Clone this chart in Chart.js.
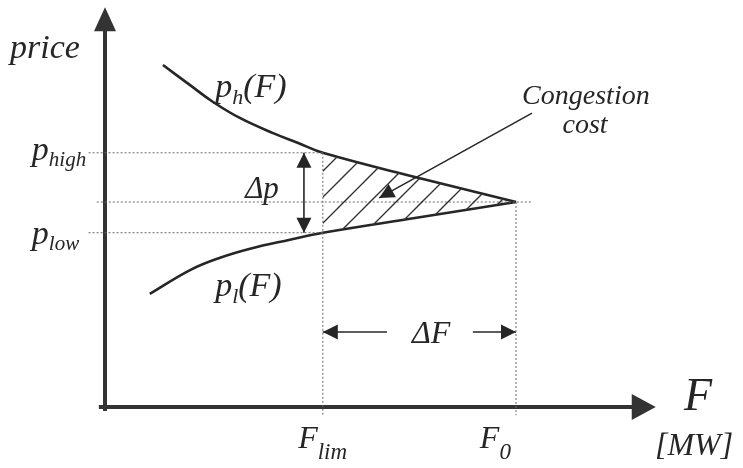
<!DOCTYPE html>
<html>
<head>
<meta charset="utf-8">
<script src="https://cdn.jsdelivr.net/npm/chart.js@4"></script>
<style>
    html, body { margin: 0; padding: 0; background: #fff; }
    canvas { display: block; }
</style>
</head>
<body>
<canvas id="congestionChart" width="743" height="468"></canvas>
<script>
// Key levels of the sketch (F in MW, price in arbitrary units)
const F_LIM = 53;
const F_0 = 100;
const P_HIGH = 62;
const P_0 = 50;
const P_LOW = 42.5;

// Demand-side curve p_h(F)
const flowUpper = [14.1, 20.7, 26.3, 32.8, 40.9, 47.0, F_LIM, 75.4, F_0];
const priceUpper = [83.4, 78.5, 74.4, 70.5, 66.8, 64.4, P_HIGH, 56.1, P_0];

// Supply-side curve p_l(F)
const flowLower = [10.9, 20.7, 28.0, 35.3, 45.0, F_LIM, 75.4, F_0];
const priceLower = [27.6, 33.4, 36.4, 38.6, 40.8, P_LOW, 46.1, P_0];

// Axis extents
const axisFlow = [-1.5, 134];
const axisPrice = [-1, 97.5];

// Annotation arrows: [from, to]
const dpArrow = { flow: 48.4, price: [P_HIGH, P_LOW] };
const dfLeft = { flow: [68.6, F_LIM], price: 18.3 };
const dfRight = { flow: [89.5, F_0], price: 18.3 };
const costArrow = { flow: [103.9, 66.7], price: [71.7, 51.0] };

const INK = "#262626";
const DOT = "#6a6a6a";
const FONT = '"Liberation Serif", "Times New Roman", serif';

const pts = (xs, ys) => xs.map((x, i) => ({ x: x, y: ys[i] }));

/**
 * Diagonal hatching pattern for the congestion cost area
 */
function makeHatch() {
    const size = 26;
    const c = document.createElement("canvas");
    c.width = size;
    c.height = size;
    const g = c.getContext("2d");
    g.strokeStyle = "#333";
    g.lineWidth = 1.4;
    g.beginPath();
    g.moveTo(0, size);
    g.lineTo(size, 0);
    g.moveTo(-2, 2);
    g.lineTo(2, -2);
    g.moveTo(size - 2, size + 2);
    g.lineTo(size + 2, size - 2);
    g.stroke();
    return g.createPattern(c, "repeat");
}

// Text labels, anchored in data coordinates
const labels = [
    { F: -23.1, p: 85.1, parts: [["price", 34, 0]] },
    { F: 26.8, p: 75.6, parts: [["p", 34, 0], ["h", 22, 7], ["(F)", 34, 0]] },
    { F: 26.8, p: 27.1, parts: [["p", 34, 0], ["l", 22, 7], ["(F)", 34, 0]] },
    { F: 117.0, p: 73.9, align: "center", parts: [["Congestion", 28, 0]] },
    { F: 116.8, p: 66.8, align: "center", parts: [["cost", 28, 0]] },
    { F: 34.1, p: 51.0, parts: [["\u0394p", 31, 0]] },
    { F: -17.8, p: 60.2, parts: [["p", 34, 0], ["high", 21, 6]] },
    { F: -17.8, p: 39.8, parts: [["p", 34, 0], ["low", 21, 6]] },
    { F: 74.7, p: 15.6, parts: [["\u0394F", 32, 0]] },
    { F: 140.9, p: -0.7, parts: [["F", 46, 0]] },
    { F: 133.8, p: -11.7, parts: [["[MW]", 32, 0]] },
    { F: 47.0, p: -10.0, parts: [["F", 32, 0], ["lim", 23, 11]] },
    { F: 91.2, p: -10.0, parts: [["F", 32, 0], ["0", 23, 11]] },
];

const labelPlugin = {
    id: "sketchLabels",
    afterDraw(chart) {
        const ctx = chart.ctx;
        const xs = chart.scales.x;
        const ys = chart.scales.y;
        ctx.save();
        ctx.fillStyle = INK;
        ctx.textBaseline = "alphabetic";
        ctx.textAlign = "left";
        labels.forEach((lab) => {
            let x = xs.getPixelForValue(lab.F);
            const y = ys.getPixelForValue(lab.p);
            if (lab.align === "center") {
                let w = 0;
                lab.parts.forEach(([t, s]) => {
                    ctx.font = `italic ${s}px ${FONT}`;
                    w += ctx.measureText(t).width;
                });
                x -= w / 2;
            }
            lab.parts.forEach(([t, s, drop]) => {
                ctx.font = `italic ${s}px ${FONT}`;
                ctx.fillText(t, x, y + drop);
                x += ctx.measureText(t).width;
            });
        });
        ctx.restore();
    },
};

/**
 * Draw filled arrow heads at the ends of datasets flagged with `arrow`
 */
const arrowPlugin = {
    id: "arrowHeads",
    afterDatasetsDraw(chart) {
        const ctx = chart.ctx;
        chart.data.datasets.forEach((ds, i) => {
            if (!ds.arrow) return;
            const el = chart.getDatasetMeta(i).data;
            const head = (tipEl, backEl) => {
                const dx = tipEl.x - backEl.x;
                const dy = tipEl.y - backEl.y;
                const len = Math.hypot(dx, dy);
                const ux = dx / len;
                const uy = dy / len;
                const ext = ds.arrowExtend || 0;
                const tx = tipEl.x + ux * ext;
                const ty = tipEl.y + uy * ext;
                const L = ds.arrowLength;
                const W = ds.arrowWidth;
                ctx.beginPath();
                ctx.moveTo(tx, ty);
                ctx.lineTo(tx - ux * L - uy * W, ty - uy * L + ux * W);
                ctx.lineTo(tx - ux * L + uy * W, ty - uy * L - ux * W);
                ctx.closePath();
                ctx.fill();
            };
            ctx.save();
            ctx.fillStyle = ds.borderColor;
            if (ds.arrow === "end" || ds.arrow === "both") {
                head(el[el.length - 1], el[el.length - 2]);
            }
            if (ds.arrow === "both") {
                head(el[0], el[1]);
            }
            ctx.restore();
        });
    },
};

const dotted = (data) => ({
    data: data,
    borderColor: DOT,
    borderWidth: 1,
    borderDash: [2, 2],
    pointRadius: 0,
    fill: false,
});

const arrowLine = (data, mode, width) => ({
    data: data,
    borderColor: INK,
    borderWidth: width || 1.6,
    pointRadius: 0,
    fill: false,
    arrow: mode,
    arrowLength: 15,
    arrowWidth: 7.5,
});

const curve = (data) => ({
    data: data,
    borderColor: INK,
    borderWidth: 2.6,
    pointRadius: 0,
    tension: 0.4,
    fill: false,
});

const hatch = makeHatch();

const datasets = [
    // hatched congestion cost triangle
    {
        data: [{ x: F_LIM, y: P_HIGH }, { x: F_0, y: P_0 }],
        borderWidth: 0,
        pointRadius: 0,
        backgroundColor: hatch,
        fill: { target: 1 },
    },
    {
        data: [{ x: F_LIM, y: P_LOW }, { x: F_0, y: P_0 }],
        borderWidth: 0,
        pointRadius: 0,
        fill: false,
    },
    // dotted guide lines
    dotted([{ x: -4, y: P_HIGH }, { x: F_LIM, y: P_HIGH }]),
    dotted([{ x: -2, y: P_0 }, { x: 104, y: P_0 }]),
    dotted([{ x: -4, y: P_LOW }, { x: F_LIM, y: P_LOW }]),
    dotted([{ x: F_LIM, y: P_HIGH }, { x: F_LIM, y: -2 }]),
    dotted([{ x: F_0, y: P_0 }, { x: F_0, y: -2 }]),
    // price curves
    curve(pts(flowUpper, priceUpper)),
    curve(pts(flowLower, priceLower)),
    // axes
    {
        data: [{ x: 0, y: axisPrice[0] }, { x: 0, y: axisPrice[1] - 4 }],
        borderColor: "#333",
        borderWidth: 4,
        pointRadius: 0,
        fill: false,
        arrow: "end",
        arrowExtend: 4 * 4.1,
        arrowLength: 24,
        arrowWidth: 11,
    },
    {
        data: [{ x: axisFlow[0], y: 0 }, { x: axisFlow[1] - 4, y: 0 }],
        borderColor: "#333",
        borderWidth: 4,
        pointRadius: 0,
        fill: false,
        arrow: "end",
        arrowExtend: 4 * 4.11,
        arrowLength: 24,
        arrowWidth: 13,
    },
    // annotation arrows
    arrowLine(
        [{ x: dpArrow.flow, y: dpArrow.price[0] }, { x: dpArrow.flow, y: dpArrow.price[1] }],
        "both"
    ),
    arrowLine(
        [{ x: dfLeft.flow[0], y: dfLeft.price }, { x: dfLeft.flow[1], y: dfLeft.price }],
        "end"
    ),
    arrowLine(
        [{ x: dfRight.flow[0], y: dfRight.price }, { x: dfRight.flow[1], y: dfRight.price }],
        "end"
    ),
    arrowLine(
        [
            { x: costArrow.flow[0], y: costArrow.price[0] },
            { x: costArrow.flow[1], y: costArrow.price[1] },
        ],
        "end",
        1.5
    ),
];

new Chart(document.getElementById("congestionChart"), {
    type: "line",
    data: { datasets: datasets },
    options: {
        responsive: false,
        animation: false,
        layout: { padding: 0 },
        scales: {
            x: { type: "linear", display: false, min: -25.55, max: 155.23 },
            y: { type: "linear", display: false, min: -14.88, max: 99.27 },
        },
        plugins: {
            legend: { display: false },
            tooltip: { enabled: false },
        },
    },
    plugins: [arrowPlugin, labelPlugin],
});
</script>
</body>
</html>
